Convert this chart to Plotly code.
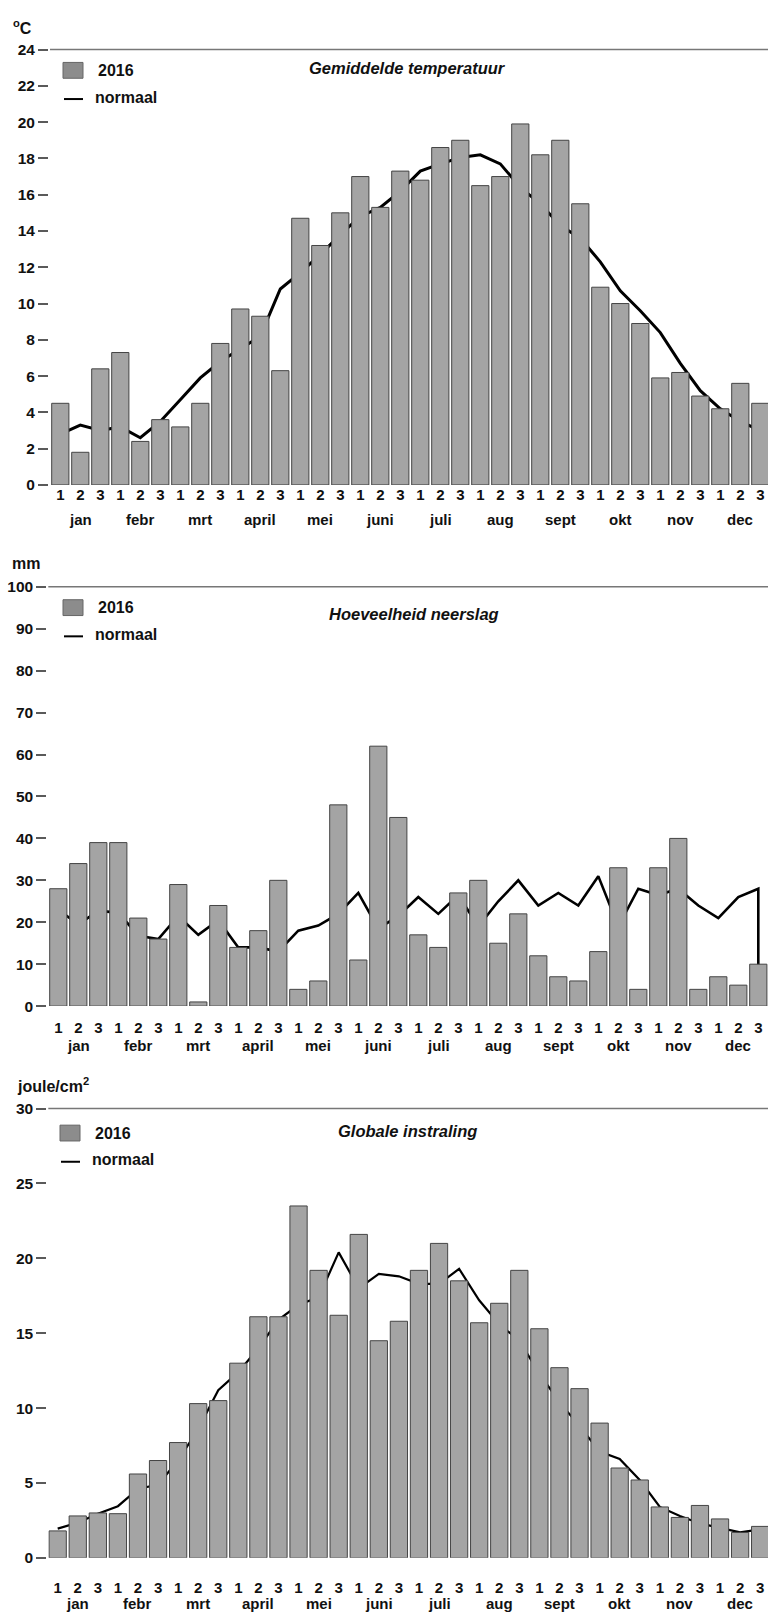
import plotly.graph_objects as go

W, H = 768, 1618
FONT = "Liberation Sans, Arial, Helvetica, sans-serif"

# ---- data: 36 decades (three per month) --------------------------------
decaden = list(range(36))
decade_labels = ["1", "2", "3"] * 12
maanden = ["jan", "febr", "mrt", "april", "mei", "juni",
           "juli", "aug", "sept", "okt", "nov", "dec"]

temp_2016 = [4.5, 1.8, 6.4, 7.3, 2.4, 3.6, 3.2, 4.5, 7.8, 9.7, 9.3, 6.3,
             14.7, 13.2, 15.0, 17.0, 15.3, 17.3, 16.8, 18.6, 19.0, 16.5, 17.0, 19.9,
             18.2, 19.0, 15.5, 10.9, 10.0, 8.9, 5.9, 6.2, 4.9, 4.2, 5.6, 4.5]
temp_normaal = [2.8, 3.3, 3.0, 3.2, 2.6, 3.5, 4.7, 5.9, 6.8, 7.5, 8.2, 10.8,
                11.7, 12.7, 13.8, 14.8, 15.3, 16.2, 17.3, 17.7, 18.05, 18.2, 17.7, 16.4,
                15.5, 14.3, 13.6, 12.3, 10.7, 9.6, 8.4, 6.7, 5.2, 4.2, 3.5, 3.0]

neerslag_2016 = [28, 34, 39, 39, 21, 16, 29, 1, 24, 14, 18, 30,
                 4, 6, 48, 11, 62, 45, 17, 14, 27, 30, 15, 22,
                 12, 7, 6, 13, 33, 4, 33, 40, 4, 7, 5, 10]
neerslag_normaal = [23, 19.5, 22.7, 22.3, 16.8, 16.0, 21.5, 17.0, 20.5, 14.0, 14.0, 13.0,
                    18.0, 19.2, 22.0, 27.0, 18.5, 21.5, 26.0, 22.0, 26.5, 19.0, 25.0, 30.0,
                    24.0, 27.0, 24.0, 31.0, 19.0, 28.0, 26.5, 28.0, 24.0, 21.0, 26.0, 28.0]
# the normal curve closes by dropping back to the baseline at the last decade
neerslag_normaal_slot = 0

straling_2016 = [1.8, 2.8, 3.0, 2.95, 5.6, 6.5, 7.7, 10.3, 10.5, 13.0, 16.1, 16.1,
                 23.5, 19.2, 16.2, 21.6, 14.5, 15.8, 19.2, 21.0, 18.5, 15.7, 17.0, 19.2,
                 15.3, 12.7, 11.3, 9.0, 6.0, 5.2, 3.4, 2.7, 3.5, 2.6, 1.7, 2.1]
straling_normaal = [1.95, 2.35, 2.95, 3.45, 4.6, 4.9, 6.5, 8.6, 11.2, 12.4, 14.0, 15.9,
                    16.9, 17.4, 20.4, 18.0, 18.96, 18.8, 18.3, 18.3, 19.3, 17.2, 15.6, 14.5,
                    12.3, 10.4, 8.8, 7.1, 6.6, 5.2, 3.4, 2.8, 2.3, 2.0, 1.7, 1.9]

# ---- styling ---------------------------------------------------------------
BAR_FILL = "#a4a4a4"
BAR_EDGE = "#444444"
AXIS_GREY = "#5a5a5a"
TEXT = "#111111"


def xp(px):
    return px / W


def yp(py):
    return 1 - py / H


panels = [
    dict(n="", bars=temp_2016, normal=temp_normaal, normal_x=decaden,
         xl=50.0, xr=(-0.515, 35.385), y0=481, y1=41, yrange=(0, 24), dtick=2,
         lw=3, unit="<b><sup>o</sup>C</b>", unit_xy=(11, 18),
         title="<b><i>Gemiddelde temperatuur</i></b>", title_xy=(407, 60),
         leg=(63, 54), month_y=516, standoff=-5),
    dict(n="2", bars=neerslag_2016,
         normal=neerslag_normaal + [neerslag_normaal_slot], normal_x=decaden + [35],
         xl=48.3, xr=(-0.5, 35.485), y0=1007.7, y1=584, yrange=(0, 100), dtick=10,
         lw=2.6, unit="<b>mm</b>", unit_xy=(10, 560),
         title="<b><i>Hoeveelheid neerslag</i></b>", title_xy=(414, 611),
         leg=(63, 597), month_y=1048, standoff=7),
    dict(n="3", bars=straling_2016, normal=straling_normaal, normal_x=decaden,
         xl=48.3, xr=(-0.468, 35.39), y0=1565.3, y1=1111.3, yrange=(0, 30), dtick=5,
         lw=2.2, unit="<b>joule/cm<sup>2</sup></b>", unit_xy=(15, 1087),
         title="<b><i>Globale instraling</i></b>", title_xy=(407, 1134),
         leg=(60, 1128), month_y=1611, standoff=15),
]

fig = go.Figure()
shapes = []
annotations = []
layout_axes = {}

for p in panels:
    n = p["n"]
    xa, ya = "x" + n, "y" + n

    # normal curve first, bars stacked above it
    fig.add_trace(go.Scatter(
        x=p["normal_x"], y=p["normal"], xaxis=xa, yaxis=ya, mode="lines",
        line=dict(color="black", width=p["lw"]), showlegend=False,
        hoverinfo="skip", zorder=0))
    fig.add_trace(go.Bar(
        x=decaden, y=p["bars"], xaxis=xa, yaxis=ya, width=0.86,
        marker=dict(color=BAR_FILL, line=dict(color=BAR_EDGE, width=1)),
        showlegend=False, hoverinfo="skip", zorder=1))

    layout_axes["xaxis" + n] = dict(
        domain=[xp(p["xl"]), 1], range=list(p["xr"]), anchor=ya,
        tickmode="array", tickvals=decaden, ticktext=decade_labels,
        ticks="", ticklabelstandoff=p["standoff"],
        showline=True, linecolor="black", linewidth=2,
        showgrid=False, zeroline=False, fixedrange=True,
        tickfont=dict(family=FONT, size=15, color=TEXT, weight="bold"))
    layout_axes["yaxis" + n] = dict(
        domain=[yp(p["y0"]), yp(p["y1"])], range=list(p["yrange"]), anchor=xa,
        tick0=0, dtick=p["dtick"], ticks="outside", ticklen=10, tickwidth=1.5,
        tickcolor=AXIS_GREY, showline=True, linecolor=AXIS_GREY, linewidth=2,
        showgrid=False, zeroline=False, fixedrange=True,
        tickfont=dict(family=FONT, size=15.5, color=TEXT, weight="bold"))

    # frame line along the top of the plot area
    shapes.append(dict(type="line", xref="paper", yref="paper",
                       x0=xp(p["xl"]), x1=1, y0=yp(p["y1"]), y1=yp(p["y1"]),
                       line=dict(color="#777", width=1.5)))

    # month names under the decade numbers
    for m, naam in enumerate(maanden):
        annotations.append(dict(
            x=3 * m + 1, xref=xa, y=yp(p["month_y"]), yref="paper",
            text="<b>" + naam + "</b>", showarrow=False,
            font=dict(family=FONT, size=15, color=TEXT),
            xanchor="center", yanchor="middle"))

    # unit label and chart title
    ux, uy = p["unit_xy"]
    annotations.append(dict(x=xp(ux), y=yp(uy), xref="paper", yref="paper",
                            text=p["unit"], showarrow=False, xanchor="left",
                            yanchor="middle",
                            font=dict(family=FONT, size=16, color=TEXT)))
    tx, ty = p["title_xy"]
    annotations.append(dict(x=xp(tx), y=yp(ty), xref="paper", yref="paper",
                            text=p["title"], showarrow=False, xanchor="center",
                            yanchor="middle",
                            font=dict(family=FONT, size=16.5, color=TEXT)))

    # legend: grey swatch for 2016, black dash for the normal
    lx, ly = p["leg"]
    shapes.append(dict(type="rect", xref="paper", yref="paper",
                       x0=xp(lx), x1=xp(lx + 20), y0=yp(ly + 16), y1=yp(ly),
                       fillcolor="#8c8c8c", line=dict(color="#666", width=1)))
    annotations.append(dict(x=xp(lx + 33), y=yp(ly + 8), xref="paper", yref="paper",
                            text="<b>2016</b>", showarrow=False, xanchor="left",
                            yanchor="middle",
                            font=dict(family=FONT, size=16, color=TEXT)))
    shapes.append(dict(type="line", xref="paper", yref="paper",
                       x0=xp(lx + 1), x1=xp(lx + 20), y0=yp(ly + 37), y1=yp(ly + 37),
                       line=dict(color="black", width=2)))
    annotations.append(dict(x=xp(lx + 30), y=yp(ly + 35), xref="paper", yref="paper",
                            text="<b>normaal</b>", showarrow=False, xanchor="left",
                            yanchor="middle",
                            font=dict(family=FONT, size=16, color=TEXT)))

fig.update_layout(
    width=W, height=H, margin=dict(l=0, r=0, t=0, b=0),
    paper_bgcolor="white", plot_bgcolor="white",
    bargap=0.14, showlegend=False,
    shapes=shapes, annotations=annotations,
    **layout_axes)

fig.write_html("out.html", config={"displayModeBar": False})
